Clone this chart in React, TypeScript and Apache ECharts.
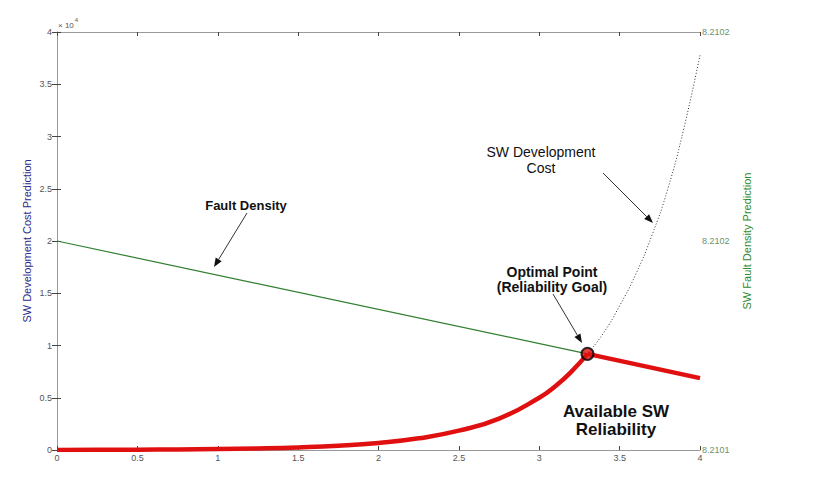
import React, { useEffect, useRef } from "react";
import * as echarts from "echarts";

// x positions (reliability parameter)
const costX = [0, 0.25, 0.5, 0.75, 1.0, 1.25, 1.5, 1.75, 2.0, 2.25, 2.5, 2.75, 3.0, 3.1, 3.2, 3.3];
// SW development cost (x 10^4), solid red part up to optimal point
const costY = [0.001, 0.002, 0.003, 0.005, 0.009, 0.015, 0.025, 0.041, 0.068, 0.112, 0.185, 0.3, 0.5, 0.61, 0.75, 0.92];
// dotted continuation beyond the optimal point
const costDotX = [3.3, 3.4, 3.5, 3.6, 3.7, 3.8, 3.9, 4.0];
const costDotY = [0.92, 1.12, 1.38, 1.68, 2.05, 2.5, 3.08, 3.78];
// fault density (right axis)
const faultX = [0, 3.3, 4.0];
const faultY = [8.21015, 8.210123, 8.2101172];
const optimal = [3.3, 0.92];

const xTickLabels = ["0", "0.5", "1", "1.5", "2", "2.5", "3", "3.5", "4"];
const leftTickLabels = ["0", "0.5", "1", "1.5", "2", "2.5", "3", "3.5", "4"];
const rightTickLabels = ["8.2101", "", "", "", "8.2102", "", "", "", "8.2102"];

const FONT = 'Arial, "Liberation Sans", sans-serif';

function arrow(x1: number, y1: number, x2: number, y2: number) {
  const ang = Math.atan2(y2 - y1, x2 - x1);
  const L = 9, W = 3.5;
  const bx = x2 - L * Math.cos(ang), by = y2 - L * Math.sin(ang);
  const px = -Math.sin(ang) * W, py = Math.cos(ang) * W;
  return [
    { type: "line", shape: { x1, y1, x2: bx, y2: by }, style: { stroke: "#333", lineWidth: 1 }, z: 50 },
    {
      type: "polygon",
      shape: { points: [[x2, y2], [bx + px, by + py], [bx - px, by - py]] },
      style: { fill: "#111" },
      z: 50,
    },
  ];
}

export default function App() {
  const ref = useRef<HTMLDivElement>(null);
  useEffect(() => {
    if (!ref.current) return;
    const chart = echarts.init(ref.current, undefined, { renderer: "svg" });
    const step = 0.0000125;
    const rmin = faultY[0] - 4 * step;
    chart.setOption({
      animation: false,
      backgroundColor: "#fff",
      grid: { left: 57, right: 116, top: 32, bottom: 32, show: false },
      xAxis: [
        {
          type: "value",
          min: 0,
          max: 4,
          interval: 0.5,
          axisLine: { show: true, lineStyle: { color: "#999", width: 1 } },
          axisTick: { show: true, inside: true, length: 4, lineStyle: { color: "#444" } },
          splitLine: { show: false },
          axisLabel: {
            color: "#555",
            fontSize: 9,
            fontFamily: FONT,
            margin: 3,
            showMinLabel: true,
            showMaxLabel: true,
            formatter: (v: number) => xTickLabels[Math.round(v / 0.5)] ?? "",
          },
        },
        {
          type: "value",
          position: "top",
          min: 0,
          max: 4,
          interval: 0.5,
          axisLine: { show: true, lineStyle: { color: "#999", width: 1 } },
          axisTick: { show: true, inside: true, length: 4, lineStyle: { color: "#444" } },
          splitLine: { show: false },
          axisLabel: { show: false },
        },
      ],
      yAxis: [
        {
          type: "value",
          min: 0,
          max: 4,
          interval: 0.5,
          name: "SW Development Cost Prediction",
          nameLocation: "middle",
          nameRotate: 90,
          nameGap: 25,
          nameMoveOverlap: false,
          nameTextStyle: { color: "#2b2b8c", fontSize: 11, fontFamily: FONT },
          axisLine: { show: true, lineStyle: { color: "#999", width: 1 } },
          axisTick: { show: true, inside: true, length: 4, lineStyle: { color: "#444" } },
          splitLine: { show: false },
          axisLabel: {
            color: "#555",
            fontSize: 9,
            fontFamily: FONT,
            margin: 5,
            showMinLabel: true,
            showMaxLabel: true,
            formatter: (v: number) => leftTickLabels[Math.round(v / 0.5)] ?? "",
          },
        },
        {
          type: "value",
          position: "right",
          min: rmin,
          max: rmin + 8 * step,
          interval: step,
          name: "SW Fault Density Prediction",
          nameLocation: "middle",
          nameRotate: 90,
          nameGap: 41,
          nameTextStyle: { color: "#2e8b2e", fontSize: 11, fontFamily: FONT },
          axisLine: { show: true, lineStyle: { color: "#999", width: 1 } },
          axisTick: { show: true, inside: true, length: 5, lineStyle: { color: "#444" } },
          splitLine: { show: false },
          axisLabel: {
            color: "#6a936a",
            fontSize: 9,
            fontFamily: FONT,
            margin: 2,
            showMinLabel: true,
            showMaxLabel: true,
            formatter: (v: number) => rightTickLabels[Math.round((v - rmin) / step)] ?? "",
          },
        },
      ],
      series: [
        {
          type: "line",
          name: "fault-green",
          yAxisIndex: 1,
          data: faultX.slice(0, 2).map((x, i) => [x, faultY[i]]),
          symbol: "none",
          lineStyle: { color: "#2f7f2f", width: 1.2 },
          z: 3,
        },
        {
          type: "line",
          name: "fault-red",
          yAxisIndex: 1,
          data: faultX.slice(1).map((x, i) => [x, faultY[i + 1]]),
          symbol: "none",
          lineStyle: { color: "#e01010", width: 4.5 },
          z: 4,
        },
        {
          type: "line",
          name: "cost-dotted",
          yAxisIndex: 0,
          data: costDotX.map((x, i) => [x, costDotY[i]]),
          symbol: "none",
          smooth: true,
          lineStyle: { color: "#333", width: 1, type: [1, 2] },
          z: 3,
        },
        {
          type: "line",
          name: "cost",
          yAxisIndex: 0,
          data: costX.map((x, i) => [x, costY[i]]),
          symbol: "none",
          smooth: true,
          lineStyle: { color: "#e01010", width: 4.5 },
          z: 4,
        },
        {
          type: "scatter",
          name: "optimal",
          yAxisIndex: 0,
          data: [optimal],
          symbol: "circle",
          symbolSize: 12,
          itemStyle: { color: "#e01010", borderColor: "#000", borderWidth: 2 },
          z: 6,
        },
      ],
      graphic: [
        {
          type: "text",
          left: 58,
          top: 17,
          style: {
            text: "{a|× 10}{b|4}",
            rich: {
              a: { fontSize: 8, fill: "#555", fontFamily: FONT, verticalAlign: "bottom" },
              b: { fontSize: 6, fill: "#555", fontFamily: FONT, verticalAlign: "top", padding: [0, 0, 6, 1] },
            },
          },
        },
        {
          type: "text",
          x: 246,
          y: 205,
          style: { text: "Fault Density", fill: "#111", font: `bold 13px ${FONT}`, align: "center", verticalAlign: "middle" },
          z: 50,
        },
        ...arrow(247, 213, 214, 267),
        {
          type: "text",
          x: 541,
          y: 160,
          style: {
            text: "SW Development\nCost",
            fill: "#111",
            font: `14px ${FONT}`,
            align: "center",
            verticalAlign: "middle",
            lineHeight: 16,
          },
          z: 50,
        },
        ...arrow(603, 173, 653, 223),
        {
          type: "text",
          x: 552,
          y: 279,
          style: {
            text: "Optimal Point\n(Reliability Goal)",
            fill: "#111",
            font: `bold 14px ${FONT}`,
            align: "center",
            verticalAlign: "middle",
            lineHeight: 15,
          },
          z: 50,
        },
        ...arrow(553, 294, 582, 343),
        {
          type: "text",
          x: 616,
          y: 420,
          style: {
            text: "Available SW\nReliability",
            fill: "#111",
            font: `bold 17px ${FONT}`,
            align: "center",
            verticalAlign: "middle",
            lineHeight: 18,
          },
          z: 50,
        },
      ],
    });
    return () => chart.dispose();
  }, []);
  return <div ref={ref} style={{ position: "absolute", left: 0, top: 0, width: 816, height: 482 }} />;
}
